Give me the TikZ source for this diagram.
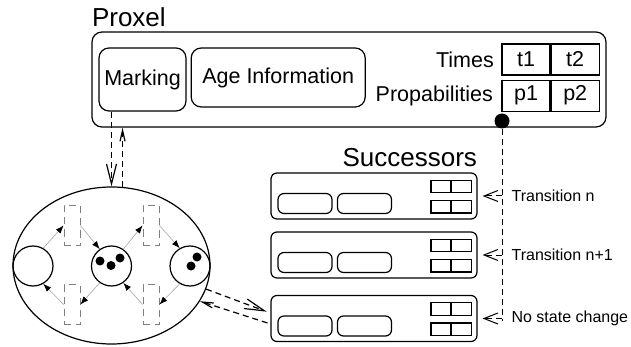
\documentclass[tikz,border=0pt]{standalone}
\usepackage{fontspec}
\setmainfont{Liberation Sans}
\usetikzlibrary{positioning,shapes.geometric,arrows.meta}

\tikzset{
  title/.style={font=\fontsize{26}{30}\selectfont, inner sep=0pt},
  label/.style={font=\fontsize{21.5}{25}\selectfont, inner sep=0pt},
  note/.style={font=\fontsize{16}{19}\selectfont, inner sep=0pt},
  frame/.style={draw, rounded corners=10pt, inner sep=0pt},
  cell/.style={draw, label, minimum width=48pt, minimum height=31pt},
  succ/.style={draw, rounded corners=6pt, minimum width=206pt, minimum height=46pt},
  inner/.style={draw, rounded corners=6pt, minimum width=54pt, minimum height=20pt},
  minicell/.style={draw, minimum width=19.5pt, minimum height=12.5pt, inner sep=0pt},
  place/.style={draw, circle, minimum size=40pt, inner sep=0pt},
  token/.style={fill, circle, minimum size=9pt, inner sep=0pt},
  trans/.style={draw=gray, line width=0.8pt, dash pattern=on 7pt off 5pt,
    minimum width=16pt, minimum height=40pt, inner sep=0pt},
  flow/.style={draw=gray!70, line width=0.6pt, -{Latex[black, length=8pt, width=6pt]}},
  dashline/.style={dash pattern=on 6pt off 4pt},
  bigv/.style={-{Straight Barb[length=20pt, width=10pt]}},
  smallv/.style={-{Straight Barb[length=11pt, width=5pt]}},
  midv/.style={-{Straight Barb[length=14pt, width=11pt]}},
}

% successor proxel: name, centre y
\newcommand\succbox[2]{
  \node[succ] (#1) at (374,#2) {};
  \node[inner] (#1a) at (305,#2+7.5) {};
  \node[inner] (#1b) at (364.5,#2+7.5) {};
  \node[minicell] (#1t1) at (440.75,#2-9.5) {};
  \node[minicell, right=0pt of #1t1] (#1t2) {};
  \node[minicell, below=6.5pt of #1t1] (#1p1) {};
  \node[minicell, right=0pt of #1p1] (#1p2) {};
}

\begin{document}
\begin{tikzpicture}[x=1pt, y=-1pt, line width=1.2pt]
  \useasboundingbox (0,0) rectangle (631,347);

  % Proxel
  \node[frame, minimum width=514pt, minimum height=95pt] (proxel) at (349,79.5) {};
  \node[title, anchor=base west] (proxeltitle) at ([yshift=5pt]proxel.north west) {Proxel};
  \node[frame, label, minimum width=87pt, minimum height=63pt] (marking) at (142.5,79.5) {Marking};
  \node[frame, label, minimum width=174pt, minimum height=59pt,
    right=4pt of marking.north east, anchor=north west] (age) {Age Information};

  \node[cell] (t1) at (526,59.5) {t1};
  \node[cell, right=0pt of t1] (t2) {t2};
  \node[cell, below=4pt of t1] (p1) {p1};
  \node[cell, right=0pt of p1] (p2) {p2};
  \node[label, left=7pt of t1] (times) {Times};
  \node[label, left=8pt of p1] (probs) {Propabilities};
  \node[token, minimum size=15pt] (src) at (502,121) {};

  % Successors
  \succbox{succ1}{196}
  \succbox{succ2}{255}
  \succbox{succ3}{318.5}
  \node[title, anchor=base east] (succtitle) at ([yshift=6pt]succ1.north east) {Successors};

  \coordinate (arr1) at (src |- succ1.east);
  \coordinate (arr2) at (src |- succ2.east);
  \coordinate (arr3) at (src |- succ3.east);
  \node[note, right=9pt of arr1] (lab1) {Transition n};
  \node[note, right=9pt of arr2] (lab2) {Transition n+1};
  \node[note, right=9pt of arr3] (lab3) {No state change};

  \draw[dashline, line width=1pt] (src) -- ([yshift=-2pt]arr3);
  \foreach \i in {1,2,3}
    \draw[dashline, line width=1pt, midv, shorten >=5pt] (arr\i) -- (succ\i.east);

  % Petri net
  \node[draw, ellipse, minimum width=197pt, minimum height=157pt, inner sep=0pt] (net) at (111.5,265.5) {};
  \node[place] (pl1) at (33,266) {};
  \node[place] (pl2) at (111.5,266) {};
  \node[place] (pl3) at (190,266) {};
  \node[token] (k1) at (100,261) {};
  \node[token] (k2) at (111,265.5) {};
  \node[token] (k3) at (120,258) {};
  \node[token] (k4) at (197,257) {};
  \node[token] (k5) at (191,266) {};

  \node[trans] (tr1) at (72,225.5) {};
  \node[trans] (tr2) at (151,225.5) {};
  \node[trans] (tr3) at (72,304.5) {};
  \node[trans] (tr4) at (151,304.5) {};

  \draw[flow] (pl1.60) -- (tr1.west);
  \draw[flow] (tr1.east) -- (pl2.125);
  \draw[flow] (pl2.55) -- (tr2.west);
  \draw[flow] (tr2.east) -- (pl3.120);
  \draw[flow] (pl3.240) -- (tr4.east);
  \draw[flow] (tr4.west) -- (pl2.305);
  \draw[flow] (pl2.235) -- (tr3.east);
  \draw[flow] (tr3.west) -- (pl1.300);

  % links
  \draw[dashline, bigv] (net.north |- marking.south) -- (net.north);
  \draw[dashline, smallv] (net.82) -- (net.82 |- proxel.south);
  \draw[dashline, bigv, shorten >=4pt] (net.-14) -- (succ3.177);
  \draw[dashline, smallv, shorten <=3pt] (succ3.183) -- (net.-22);
\end{tikzpicture}
\end{document}
